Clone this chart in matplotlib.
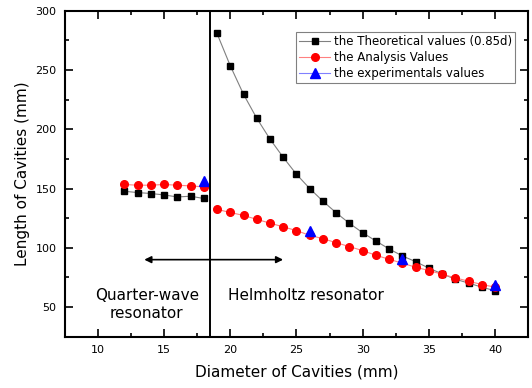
import numpy as np
import matplotlib.pyplot as plt
from matplotlib.lines import Line2D
from matplotlib.ticker import MultipleLocator

plt.rcParams['font.family'] = ['DejaVu Sans']

# theoretical values (0.85d)
theo_x_left = [12, 13, 14, 15, 16, 17, 18]
theo_y_left = [147.7, 146.6, 145.8, 144.6, 142.9, 143.5, 141.6]
theo_x_right = list(range(19, 41))
theo_y_right = [280.8, 253.6, 229.5, 209.3, 191.7, 176.3, 162.0, 150.0,
                139.3, 129.5, 120.6, 112.7, 105.7, 99.0, 93.1, 88.3,
                82.8, 78.0, 73.5, 70.2, 66.8, 63.7]

# analysis values
ana_x_left = [12, 13, 14, 15, 16, 17, 18]
ana_y_left = [153.4, 152.8, 152.8, 153.4, 152.8, 152.2, 151.4]
ana_x_right = list(range(19, 41))
ana_y_right = [132.4, 129.8, 127.3, 124.0, 120.8, 117.7, 114.5, 110.5,
               107.7, 104.3, 101.0, 97.6, 93.7, 90.3, 87.0, 83.6,
               80.8, 77.7, 74.6, 71.8, 69.0, 66.8]

# experimental values
exp_x = [18, 26, 33, 40]
exp_y = [156.0, 114.1, 90.8, 68.5]

labels = ['the Theoretical values (0.85d)', 'the Analysis Values',
          'the experimentals values']
boundary = 18.5

fig = plt.figure(figsize=(5.32, 3.88), dpi=100)
ax = fig.add_axes([0.1216, 0.1322, 0.8714, 0.8402])

theo_style = dict(color='#808080', lw=0.8, marker='s', ms=5,
                  mfc='black', mec='black')
ana_style = dict(color='#ff8080', lw=0.8, marker='o', ms=5.5,
                 mfc='red', mec='red')
exp_style = dict(color='#8080ff', lw=0.8, marker='^', ms=6.5,
                 mfc='blue', mec='blue')

ax.plot(theo_x_left, theo_y_left, **theo_style)
ax.plot(theo_x_right, theo_y_right, **theo_style)
ax.plot(ana_x_left, ana_y_left, **ana_style)
ax.plot(ana_x_right, ana_y_right, **ana_style)
ax.plot(exp_x, exp_y, ls='none', **exp_style)

ax.axvline(boundary, color='black', lw=1.4)
ax.annotate('', xy=(13.3, 90), xytext=(24.2, 90),
            arrowprops=dict(arrowstyle='<|-|>', color='black', lw=1.2,
                            mutation_scale=10))
ax.text(13.7, 52, 'Quarter-wave\nresonator', ha='center', va='center',
        fontsize=11, linespacing=1.2)
ax.text(25.7, 60, 'Helmholtz resonator', ha='center', va='center',
        fontsize=11)

ax.set_xlim(7.5, 42.5)
ax.set_ylim(25, 300)
ax.xaxis.set_major_locator(MultipleLocator(5))
ax.xaxis.set_minor_locator(MultipleLocator(2.5))
ax.yaxis.set_major_locator(MultipleLocator(50))
ax.yaxis.set_minor_locator(MultipleLocator(25))
ax.set_yticks([50, 100, 150, 200, 250, 300])
ax.tick_params(which='both', direction='in', top=True, right=True,
               labelsize=8, width=1.2)
ax.tick_params(which='major', length=5.5, pad=6)
ax.tick_params(which='minor', length=3)
for s in ax.spines.values():
    s.set_linewidth(1.5)

ax.set_xlabel('Diameter of Cavities (mm)', fontsize=11, labelpad=7)
ax.set_ylabel('Length of Cavities (mm)', fontsize=11, labelpad=4)

handles = [Line2D([], [], **theo_style), Line2D([], [], **ana_style),
           Line2D([], [], **exp_style)]
leg = ax.legend(handles, labels, loc='upper left',
                bbox_to_anchor=(0.5, 0.935), borderaxespad=0, fontsize=8.5,
                fancybox=False, edgecolor='#808080', framealpha=1,
                handlelength=2.6, labelspacing=0.25, borderpad=0.25,
                handletextpad=0.3)
leg.get_frame().set_linewidth(0.8)

fig.savefig('out.png', dpi=100)
